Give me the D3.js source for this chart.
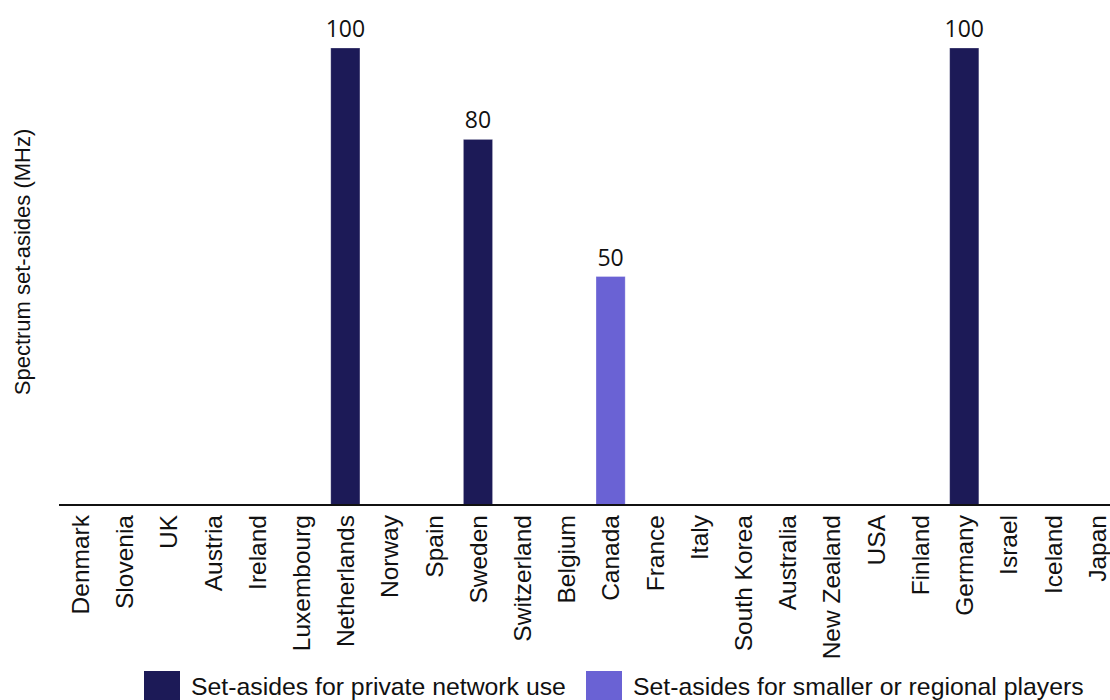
<!DOCTYPE html>
<html>
<head>
<meta charset="utf-8">
<script src="https://cdn.jsdelivr.net/npm/d3@7"></script>
<style>
  html, body { margin: 0; padding: 0; background: #fff; }
  svg { display: block; }
  text { font-family: "Liberation Sans", Arial, sans-serif; fill: #111; }
</style>
</head>
<body>
<svg id="chart" width="1110" height="700"></svg>
<script>
// Countries along the x axis
const countries = ["Denmark", "Slovenia", "UK", "Austria", "Ireland", "Luxembourg",
  "Netherlands", "Norway", "Spain", "Sweden", "Switzerland", "Belgium", "Canada",
  "France", "Italy", "South Korea", "Australia", "New Zealand", "USA", "Finland",
  "Germany", "Israel", "Iceland", "Japan"];

// Spectrum set aside (MHz) per country, by type
const privateNetwork = [0, 0, 0, 0, 0, 0, 100, 0, 0, 80, 0, 0, 0,
  0, 0, 0, 0, 0, 0, 0, 100, 0, 0, 0];
const regionalPlayers = [0, 0, 0, 0, 0, 0, 0, 0, 0, 0, 0, 0, 50,
  0, 0, 0, 0, 0, 0, 0, 0, 0, 0, 0];

const seriesNames = ["Set-asides for private network use", "Set-asides for smaller or regional players"];
const seriesColors = ["#1c1a57", "#6a62d4"];

const svg = d3.select("#chart");

const x = d3.scaleBand().domain(countries).range([58, 1119]).paddingInner(0.34).paddingOuter(0.17);
const y = d3.scaleLinear().domain([0, 100]).range([505, 48]);

const rows = countries.map((c, i) => ({
  country: c,
  values: [privateNetwork[i], regionalPlayers[i]]
}));

// Bars: each country has at most one non-zero series
const bars = [];
rows.forEach(r => r.values.forEach((v, s) => {
  if (v > 0) bars.push({ country: r.country, value: v, series: s });
}));

svg.append("g").selectAll("rect").data(bars).join("rect")
  .attr("x", d => x(d.country))
  .attr("width", x.bandwidth())
  .attr("y", d => y(d.value))
  .attr("height", d => y(0) - y(d.value))
  .attr("fill", d => seriesColors[d.series])
  .attr("stroke", "#ffffff")
  .attr("stroke-opacity", 0.35)
  .attr("stroke-width", 0.8);

// Value labels above bars
svg.append("g").selectAll("text").data(bars).join("text")
  .attr("x", d => x(d.country) + x.bandwidth() / 2)
  .attr("y", d => y(d.value) - 11)
  .attr("text-anchor", "middle")
  .style("font-family", "'Open Sans', 'Liberation Sans', sans-serif")
  .style("font-size", "23px")
  .text(d => d.value);

// X axis with rotated country names
const xAxis = svg.append("g")
  .attr("transform", `translate(0,${y(0)})`)
  .call(d3.axisBottom(x).tickSize(0).tickPadding(0));
xAxis.select(".domain").attr("stroke", "#111").attr("stroke-width", 2)
  .attr("d", "M59,0H1110");
xAxis.selectAll(".tick text")
  .attr("transform", "rotate(-90)")
  .attr("x", -10)
  .attr("y", 0)
  .attr("dy", "0.36em")
  .attr("text-anchor", "end")
  .style("font-size", "24.5px")
  .style("font-family", "'Liberation Sans', Arial, sans-serif")
  .attr("fill", "#111");

// Y axis title
svg.append("text")
  .attr("transform", "translate(30,262) rotate(-90)")
  .attr("text-anchor", "middle")
  .style("font-size", "22px")
  .text("Spectrum set-asides (MHz)");

// Legend
const legendX = [144, 586];
const legend = svg.append("g").selectAll("g").data(seriesNames).join("g")
  .attr("transform", (d, i) => `translate(${legendX[i]},671)`);
legend.append("rect")
  .attr("width", 36).attr("height", 30)
  .attr("fill", (d, i) => seriesColors[i]);
legend.append("text")
  .attr("x", 47).attr("y", 24)
  .style("font-size", "24.8px")
  .text(d => d);
</script>
</body>
</html>
